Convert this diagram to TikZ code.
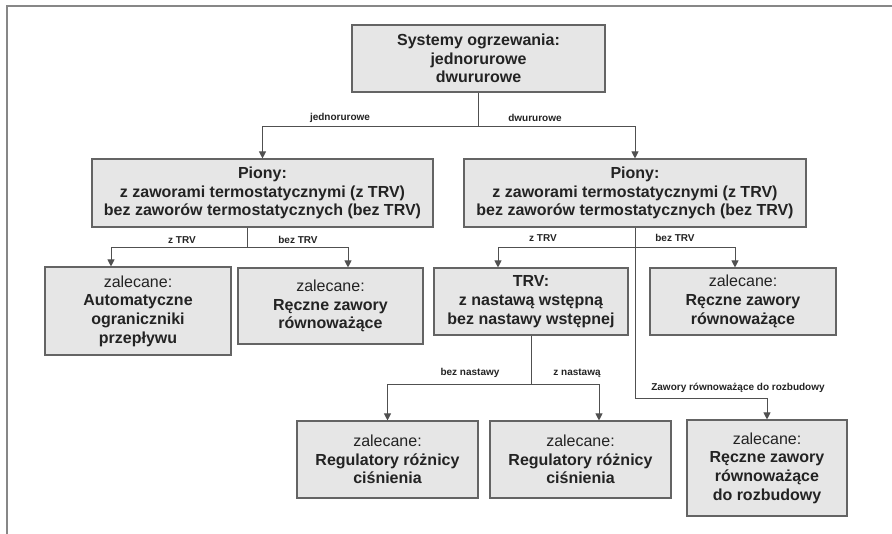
\documentclass[tikz,border=0pt]{standalone}
\usepackage{fontspec}
\setmainfont{Liberation Sans}
\usetikzlibrary{arrows.meta, positioning}

\definecolor{boxfill}{RGB}{230,230,230}
\definecolor{boxline}{RGB}{100,100,100}
\definecolor{linec}{RGB}{80,80,80}
\definecolor{txt}{RGB}{35,35,35}
\definecolor{framec}{RGB}{135,135,135}

\tikzset{
	box/.style={draw=boxline, fill=boxfill, line width=1.1pt, align=center, inner sep=0pt,
		text=txt, font=\fontsize{16}{18.7}\selectfont\bfseries},
	lbl/.style={text=txt, inner sep=0pt, font=\fontsize{10}{12}\selectfont\bfseries},
	arr/.style={draw=linec, line width=1pt, -{Triangle[length=7pt,width=7pt]}},
}
\newcommand{\zal}{{\mdseries zalecane:}}

\begin{document}
\begin{tikzpicture}[x=1pt,y=-1pt]
				\useasboundingbox (0,0) rectangle (892,534);
				\draw[framec, line width=2pt] (6.5,534) -- (6.5,6.5) -- (892,6.5); % ramka

				\node[box, minimum width=253pt, minimum height=67pt] (sys) at (478.5,58.5)
					{Systemy ogrzewania:\\jednorurowe\\dwururowe};
				\node[box, minimum width=341pt, minimum height=68pt] (pionyA) at (262.5,193)
					{Piony:\\z zaworami termostatycznymi (z TRV)\\bez zaworów termostatycznych (bez TRV)};
				\node[box, minimum width=342pt, minimum height=68pt] (pionyB) at (635,193)
					{Piony:\\z zaworami termostatycznymi (z TRV)\\bez zaworów termostatycznych (bez TRV)};

				\node[box, minimum width=186pt, minimum height=88pt] (autom) at (138,311)
					{\zal\\Automatyczne\\ograniczniki\\przepływu};
				\node[box, minimum width=185pt, minimum height=76pt] (reczA) at (330.5,306)
					{\zal\\Ręczne zawory\\równoważące};
				\node[box, minimum width=194pt, minimum height=67pt] (trv) at (531,301.5)
					{TRV:\\z nastawą wstępną\\bez nastawy wstępnej};
				\node[box, minimum width=186pt, minimum height=67pt] (reczB) at (743,301.5)
					{\zal\\Ręczne zawory\\równoważące};

				\node[box, minimum width=181pt, minimum height=77pt] (regA) at (387.5,459.5)
					{\zal\\Regulatory różnicy\\ciśnienia};
				\node[box, minimum width=181pt, minimum height=77pt] (regB) at (580.5,459.5)
					{\zal\\Regulatory różnicy\\ciśnienia};
				\node[box, minimum width=160pt, minimum height=96pt] (reczC) at (767,468)
					{\zal\\Ręczne zawory\\równoważące\\do rozbudowy};

				% połączenia
				\draw[arr] (sys.south) -- ++(0,34) -| (pionyA.north);
				\draw[arr] (sys.south) -- ++(0,34) -| (pionyB.north);
				\draw[arr] ([xshift=-15.5pt]pionyA.south) -- ++(0,20) -| ([xshift=-27pt]autom.north);
				\draw[arr] ([xshift=-15.5pt]pionyA.south) -- ++(0,20) -| ([xshift=17.5pt]reczA.north);
				\draw[arr] (pionyB.south) -- ++(0,20) -| ([xshift=-33pt]trv.north);
				\draw[arr] (pionyB.south) -- ++(0,20) -| ([xshift=-8pt]reczB.north);
				\draw[arr] (pionyB.south) -- ++(0,171) -| (reczC.north);
				\draw[arr] (trv.south) -- ++(0,49) -| (regA.north);
				\draw[arr] (trv.south) -- ++(0,49) -| ([xshift=18.5pt]regB.north);

				% opisy
				\node[lbl] (l1) at (340,118) {jednorurowe};
				\node[lbl] (l2) at (535,118) {dwururowe};
				\node[lbl] (l3) at (182,240) {z TRV};
				\node[lbl] (l4) at (298,240) {bez TRV};
				\node[lbl] (l5) at (543,238) {z TRV};
				\node[lbl] (l6) at (675,238) {bez TRV};
				\node[lbl] (l7) at (470,373) {bez nastawy};
				\node[lbl] (l8) at (577,373) {z nastawą};
				\node[lbl] (l9) at (738,388) {Zawory równoważące do rozbudowy};
\end{tikzpicture}
\end{document}
